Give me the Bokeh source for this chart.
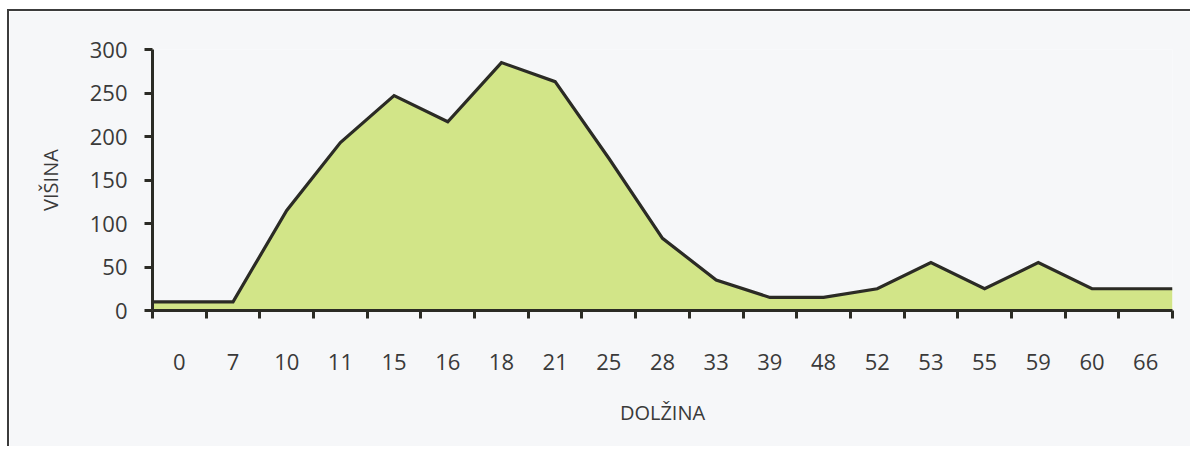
from bokeh.plotting import figure
from bokeh.models import FixedTicker, Range1d
from bokeh.embed import file_html
from bokeh.resources import INLINE

categories = ["0", "7", "10", "11", "15", "16", "18", "21", "25", "28",
              "33", "39", "48", "52", "53", "55", "59", "60", "66"]
heights = [10, 10, 115, 193, 247, 217, 285, 263, 175, 83,
           35, 15, 15, 25, 55, 25, 55, 25, 25]
y_ticks = [0, 50, 100, 150, 200, 250, 300]

n = len(categories)
centers = [i + 0.5 for i in range(n)]
xs = [0] + centers + [n]
ys = [heights[0]] + heights + [heights[-1]]

BG = "#f6f7f9"
INK = "#2b2b25"
TXT = "#3a3a3a"
FONT = "Open Sans"

p = figure(width=1183, height=437, x_range=Range1d(0, n), y_range=Range1d(0, 300),
           output_backend="svg", toolbar_location=None,
           min_border_left=143, min_border_right=20, min_border_top=38, min_border_bottom=138)
p.styles = {"border-left": "2px solid #3c3c3c", "border-top": "2px solid #3c3c3c",
            "margin-left": "7px", "margin-top": "9px"}
p.background_fill_color = BG
p.border_fill_color = BG
p.outline_line_color = None
p.grid.visible = False

p.varea(x=xs, y1=[0] * len(xs), y2=ys, fill_color="#d2e588")
p.line(x=xs, y=ys, line_color=INK, line_width=3.2, line_join="miter")

# x axis
xa = p.xaxis[0]
xa.ticker = FixedTicker(ticks=centers, minor_ticks=list(range(n + 1)))
xa.major_label_overrides = {c: lab for c, lab in zip(centers, categories)}
xa.major_tick_out = 0
xa.major_tick_in = 0
xa.minor_tick_out = 8
xa.minor_tick_in = 0
xa.minor_tick_line_color = INK
xa.minor_tick_line_width = 3
xa.axis_line_color = INK
xa.axis_line_width = 3
xa.major_label_standoff = 35
xa.major_label_text_font = FONT
xa.major_label_text_font_size = "22px"
xa.major_label_text_color = TXT
xa.axis_label = "DOLŽINA"
xa.axis_label_text_font = FONT
xa.axis_label_text_font_style = "normal"
xa.axis_label_text_font_size = "20px"
xa.axis_label_text_color = TXT
xa.axis_label_standoff = 26

# y axis
ya = p.yaxis[0]
ya.ticker = FixedTicker(ticks=y_ticks)
ya.minor_tick_line_color = None
ya.major_tick_out = 8
ya.major_tick_in = 0
ya.major_tick_line_color = INK
ya.major_tick_line_width = 3
ya.axis_line_color = INK
ya.axis_line_width = 3
ya.major_label_standoff = 17
ya.major_label_text_font = FONT
ya.major_label_text_font_size = "22px"
ya.major_label_text_color = TXT
ya.axis_label = "VIŠINA"
ya.axis_label_text_font = FONT
ya.axis_label_text_font_style = "normal"
ya.axis_label_text_font_size = "20px"
ya.axis_label_text_color = TXT
ya.axis_label_standoff = 23

open("out.html", "w").write(file_html(p, INLINE))
